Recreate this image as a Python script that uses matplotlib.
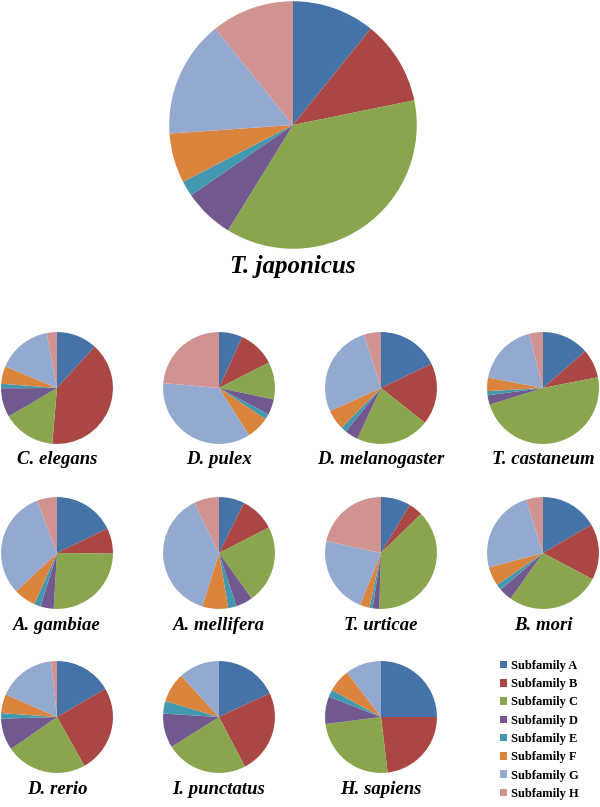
import matplotlib
matplotlib.use('Agg')
import matplotlib.pyplot as plt
from matplotlib.patches import Patch

W, H = 600, 807

subfamilies = ['Subfamily A', 'Subfamily B', 'Subfamily C', 'Subfamily D',
               'Subfamily E', 'Subfamily F', 'Subfamily G', 'Subfamily H']
colors = ['#4572A7', '#AA4643', '#89A54E', '#71588F',
          '#4198AF', '#DB843D', '#93A9CF', '#D19392']

# percentages per subfamily (A..H)
t_japonicus = [10.8, 11.0, 37.0, 6.6, 2.0, 6.5, 15.3, 10.8]

species = ['C. elegans', 'D. pulex', 'D. melanogaster', 'T. castaneum',
           'A. gambiae', 'A. mellifera', 'T. urticae', 'B. mori',
           'D. rerio', 'I. punctatus', 'H. sapiens']
c_elegans = [11.8, 39.6, 15.2, 8.4, 1.3, 5.1, 15.7, 3.0]
d_pulex = [6.8, 10.7, 10.8, 4.5, 1.6, 6.6, 35.4, 23.6]
d_melanogaster = [17.9, 17.8, 21.3, 3.9, 1.6, 5.8, 26.9, 4.9]
t_castaneum = [13.6, 8.3, 48.3, 2.7, 1.2, 3.9, 18.0, 4.0]
a_gambiae = [17.8, 7.4, 25.8, 3.8, 1.9, 6.4, 31.2, 5.8]
a_mellifera = [7.4, 10.1, 22.6, 4.9, 2.4, 7.5, 37.9, 7.3]
t_urticae = [8.6, 4.1, 37.8, 1.9, 0.9, 2.8, 22.3, 21.6]
b_mori = [16.6, 16.2, 27.1, 3.8, 1.7, 5.5, 24.3, 4.9]
d_rerio = [16.6, 25.3, 23.5, 9.2, 1.6, 5.5, 16.7, 1.7]
i_punctatus = [18.0, 24.3, 23.7, 9.9, 3.6, 8.6, 11.8, 0.0]
h_sapiens = [25.0, 23.1, 24.9, 7.9, 2.1, 6.6, 10.4, 0.0]
small_data = [c_elegans, d_pulex, d_melanogaster, t_castaneum,
              a_gambiae, a_mellifera, t_urticae, b_mori,
              d_rerio, i_punctatus, h_sapiens]

title_font = dict(family='Liberation Serif', weight='bold', style='italic')

fig = plt.figure(figsize=(W / 100, H / 100), dpi=100)


def pie_at(cx, cy, r, vals):
    ax = fig.add_axes([(cx - r) / W, (H - cy - r) / H, 2 * r / W, 2 * r / H])
    ax.pie(vals, colors=colors, startangle=90, counterclock=False,
           radius=1, wedgeprops=dict(linewidth=0))
    ax.set_xlim(-1.01, 1.01)
    ax.set_ylim(-1.01, 1.01)
    ax.axis('off')
    return ax


pie_at(293, 125, 125, t_japonicus)
fig.text(293 / W, 1 - 266 / H, 'T. japonicus', ha='center', va='center',
         fontsize=18, **title_font)

xs = [57, 219, 381, 543]
ys = [388, 553, 717]
ty = [459, 625, 789]
r = 56.5
for i, (name, vals) in enumerate(zip(species, small_data)):
    row, col = divmod(i, 4)
    pie_at(xs[col], ys[row], r, vals)
    fig.text(xs[col] / W, 1 - ty[row] / H, name, ha='center', va='center',
             fontsize=13.5, **title_font)

handles = [Patch(facecolor=c, edgecolor='none') for c in colors]
fig.legend(handles, subfamilies, loc='upper left',
           bbox_to_anchor=(500 / W, 1 - 660 / H), frameon=False,
           prop=dict(family='Liberation Serif', weight='bold', size=9),
           handlelength=0.55, handleheight=0.55, handletextpad=0.35,
           labelspacing=0.5, borderpad=0, borderaxespad=0)

fig.savefig('out.png', dpi=100)
